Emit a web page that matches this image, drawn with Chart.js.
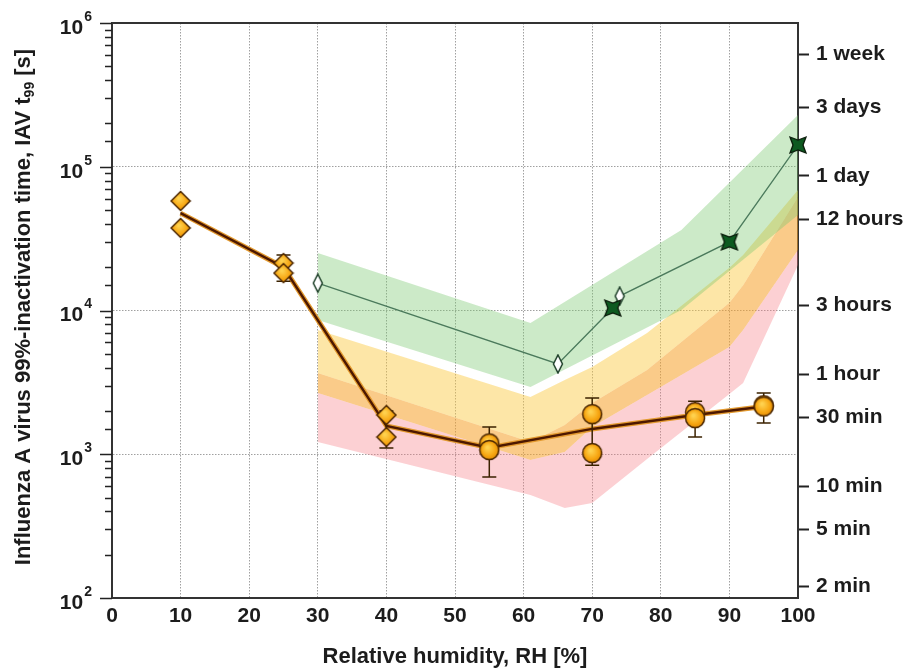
<!DOCTYPE html>
<html>
<head>
<meta charset="utf-8">
<script src="https://cdn.jsdelivr.net/npm/chart.js@4.4.1/dist/chart.umd.min.js"></script>
<style>
  html, body { margin: 0; padding: 0; background: #fff; }
  #wrap { width: 907px; height: 671px; }
</style>
</head>
<body>
<div id="wrap"><canvas id="chart" width="907" height="671"></canvas></div>
<script>
// measured IAV t99 (s) vs relative humidity (%)
const diamondRH = [10, 10, 25, 25, 40, 40];
const diamondT = [57800, 37500, 21400, 18200, 1875, 1318];
const circleRH = [55, 55, 70, 70, 85, 85, 95, 95];
const circleT = [1190, 1070, 1900, 1020, 1960, 1785, 2190, 2150];

const errRH = [25, 40, 55, 70, 85, 95];
const errLow = [16000, 1105, 695, 840, 1318, 1650];
const errHigh = [24300, 2000, 1550, 2460, 2340, 2670];

const meanRH = [10, 25, 40, 55, 70, 85, 95];
const meanT = [47600, 20000, 1575, 1110, 1500, 1875, 2150];

// green series
const openRH = [30, 65, 74];
const openT = [15500, 4250, 12600];
const starRH = [73, 90, 100];
const starT = [10400, 30000, 141600];

// shaded bands
const greenRH = [30, 61, 83, 100];
const greenTop = [25100, 8180, 36300, 229000];
const greenBottom = [8590, 2940, 10100, 46200];

const warmRH = [30, 61, 66, 70, 78, 90, 92, 100];
const yellowTop = [7320, 2500, 3285, 4050, 6970, 19800, 24300, 68900];
const orangeTop = [3675, 1217, 1598, 2273, 3860, 11300, 15000, 61600];
const pinkTop = [2670, 912, 1037, 1547, 2585, 5570, 7320, 26400];
const pinkBottom = [1217, 521, 423, 458, 927, 2625, 3130, 20700];

// axes
const leftDecades = [2, 3, 4, 5, 6];
const rightTickVals = [604800, 259200, 86400, 43200, 10800, 3600, 1800, 600, 300, 120];
const rightTickLabels = ['1 week', '3 days', '1 day', '12 hours', '3 hours', '1 hour', '30 min', '10 min', '5 min', '2 min'];

const FAMILY = '"Liberation Sans", Arial, sans-serif';
const INK = '#1c1c1c';
const tickFont = { family: FAMILY, size: 21, weight: 'bold' };
const titleFont = { family: FAMILY, size: 22, weight: 'bold' };

function pts(xs, ys) {
  return xs.map((x, i) => ({ x: x, y: ys[i] }));
}

function isPow10(v) {
  const l = Math.log10(v);
  return Math.abs(l - Math.round(l)) < 1e-9;
}

function makeMarker(w, h, shape, fill, stroke, lw) {
  const cv = document.createElement('canvas');
  cv.width = w;
  cv.height = h;
  const g = cv.getContext('2d');
  g.beginPath();
  shape(g, w, h);
  g.closePath();
  g.fillStyle = typeof fill === 'function' ? fill(g, w, h) : fill;
  g.fill();
  g.lineWidth = lw;
  g.strokeStyle = stroke;
  g.stroke();
  return cv;
}

const orangeGrad = (g, w, h) => {
  const gr = g.createRadialGradient(w * 0.42, h * 0.38, 1, w / 2, h / 2, w / 2);
  gr.addColorStop(0, '#ffd24f');
  gr.addColorStop(0.6, '#f7a612');
  gr.addColorStop(1, '#d98000');
  return gr;
};

const diamondImg = makeMarker(22, 22, (g, w, h) => {
  g.moveTo(w / 2, 1.5); g.lineTo(w - 1.5, h / 2); g.lineTo(w / 2, h - 1.5); g.lineTo(1.5, h / 2);
}, orangeGrad, '#4a2600', 1.5);

const circleImg = makeMarker(22, 22, (g, w, h) => {
  g.arc(w / 2, h / 2, w / 2 - 1.5, 0, Math.PI * 2);
}, orangeGrad, '#4a2600', 1.5);

const openImg = makeMarker(12, 20, (g, w, h) => {
  g.moveTo(w / 2, 1); g.lineTo(w - 1.5, h / 2); g.lineTo(w / 2, h - 1); g.lineTo(1.5, h / 2);
}, '#ffffff', '#1d3f28', 1.5);

const starImg = makeMarker(20, 20, (g, w, h) => {
  g.moveTo(2, 2); g.lineTo(w / 2, 5); g.lineTo(w - 2, 2); g.lineTo(w - 5, h / 2);
  g.lineTo(w - 2, h - 2); g.lineTo(w / 2, h - 5); g.lineTo(2, h - 2); g.lineTo(5, h / 2);
}, '#0d5a20', '#0a1a0a', 1.3);

function band(name, xs, hi, lo, color, order) {
  return [
    { label: name + ' lo', data: pts(xs, lo), borderColor: 'rgba(0,0,0,0)', borderWidth: 0,
      pointRadius: 0, fill: false, order: order, tension: 0 },
    { label: name + ' hi', data: pts(xs, hi), borderColor: 'rgba(0,0,0,0)', borderWidth: 0,
      pointRadius: 0, fill: '-1', backgroundColor: color, order: order, tension: 0 }
  ];
}

const greenLine = pts(openRH.concat(starRH), openT.concat(starT)).sort((a, b) => a.x - b.x);

const datasets = [
  ...band('yellow', warmRH, yellowTop, orangeTop, 'rgba(250,200,60,0.45)', 20),
  ...band('orange', warmRH, orangeTop, pinkTop, 'rgba(245,160,40,0.55)', 19),
  ...band('pink', warmRH, pinkTop, pinkBottom, 'rgba(245,120,130,0.35)', 18),
  ...band('green', greenRH, greenTop, greenBottom, 'rgba(120,200,110,0.38)', 17),
  { label: 'green line', data: greenLine, borderColor: '#4b7a5c', borderWidth: 1.3,
    pointRadius: 0, fill: false, order: 10, tension: 0, clip: false },
  { label: 'open', data: pts(openRH, openT), showLine: false, pointStyle: openImg,
    pointRadius: 8, order: 9, clip: false },
  { label: 'star', data: pts(starRH, starT), showLine: false, pointStyle: starImg,
    pointRadius: 8, order: 8, clip: false },
  { label: 'mean glow', data: pts(meanRH, meanT), borderColor: '#e39a2f', borderWidth: 5,
    pointRadius: 0, fill: false, order: 5, tension: 0 },
  { label: 'mean', data: pts(meanRH, meanT), borderColor: '#4d1800', borderWidth: 2.4,
    pointRadius: 0, fill: false, order: 4, tension: 0 },
  { label: 'diamonds', data: pts(diamondRH, diamondT), showLine: false, pointStyle: diamondImg,
    pointRadius: 10, order: 2, clip: false },
  { label: 'circles', data: pts(circleRH, circleT), showLine: false, pointStyle: circleImg,
    pointRadius: 10, order: 1, clip: false }
];

const decor = {
  id: 'decor',
  beforeDatasetsDraw(chart) {
    const { ctx, chartArea: a } = chart;
    ctx.save();
    ctx.strokeStyle = '#333';
    ctx.lineWidth = 2;
    ctx.strokeRect(a.left, a.top, a.right - a.left, a.bottom - a.top);
    ctx.restore();
  },
  beforeDatasetDraw(chart, args) {
    if (chart.data.datasets[args.index].label !== 'diamonds') return;
    const { ctx } = chart;
    const xs = chart.scales.x, ys = chart.scales.y;
    ctx.save();
    ctx.strokeStyle = '#3b2200';
    ctx.lineWidth = 1.5;
    ctx.beginPath();
    errRH.forEach((rh, i) => {
      const px = xs.getPixelForValue(rh);
      const p1 = ys.getPixelForValue(errLow[i]);
      const p2 = ys.getPixelForValue(errHigh[i]);
      ctx.moveTo(px, p1); ctx.lineTo(px, p2);
      ctx.moveTo(px - 7, p1); ctx.lineTo(px + 7, p1);
      ctx.moveTo(px - 7, p2); ctx.lineTo(px + 7, p2);
    });
    ctx.stroke();
    ctx.restore();
  },
  afterDraw(chart) {
    const { ctx } = chart;
    const ys = chart.scales.y;
    ctx.save();
    // left ticks (outside), long at decades
    ctx.strokeStyle = '#222';
    ctx.lineWidth = 1.6;
    ctx.beginPath();
    ys.ticks.forEach(t => {
      const py = Math.round(ys.getPixelForValue(t.value)) + 0.5;
      const len = isPow10(t.value) ? 12 : 7;
      ctx.moveTo(ys.right - len, py);
      ctx.lineTo(ys.right, py);
    });
    ctx.stroke();

    // left labels 10^n
    ctx.fillStyle = INK;
    ctx.textAlign = 'right';
    ctx.textBaseline = 'middle';
    const xr = ys.right - 20;
    leftDecades.forEach(d => {
      const py = ys.getPixelForValue(Math.pow(10, d));
      ctx.font = 'bold 14px ' + FAMILY;
      const exp = String(d);
      const ew = ctx.measureText(exp).width;
      ctx.fillText(exp, xr, py - 6);
      ctx.font = 'bold 21px ' + FAMILY;
      ctx.fillText('10', xr - ew - 1, py + 5);
    });

    // y title with subscript
    const p1 = 'Influenza A virus 99%-inactivation time, IAV t';
    const sub = '99';
    const p3 = ' [s]';
    ctx.font = 'bold 22px ' + FAMILY;
    const w1 = ctx.measureText(p1).width;
    const w3 = ctx.measureText(p3).width;
    ctx.font = 'bold 14px ' + FAMILY;
    const w2 = ctx.measureText(sub).width;
    const total = w1 + w2 + w3;
    ctx.translate(24, 307);
    ctx.rotate(-Math.PI / 2);
    ctx.textAlign = 'left';
    ctx.textBaseline = 'middle';
    const x0 = -total / 2;
    ctx.font = 'bold 22px ' + FAMILY;
    ctx.fillText(p1, x0, 0);
    ctx.font = 'bold 14px ' + FAMILY;
    ctx.fillText(sub, x0 + w1, 6);
    ctx.font = 'bold 22px ' + FAMILY;
    ctx.fillText(p3, x0 + w1 + w2, 0);
    ctx.restore();
  }
};

new Chart(document.getElementById('chart'), {
  type: 'line',
  data: { datasets: datasets },
  options: {
    responsive: false,
    animation: false,
    events: [],
    layout: { padding: { top: 23, left: 0, right: 0, bottom: 0 } },
    plugins: {
      legend: { display: false },
      tooltip: { enabled: false }
    },
    scales: {
      x: {
        type: 'linear',
        min: 0,
        max: 100,
        ticks: { stepSize: 10, font: tickFont, color: INK, padding: 6 },
        grid: {
          color: c => (c.tick && c.tick.value > 0 && c.tick.value < 100) ? '#a0a0a0' : 'rgba(0,0,0,0)',
          drawTicks: false,
          lineWidth: 1
        },
        border: { color: '#222', width: 2, dash: [1.5, 1.5] },
        title: {
          display: true,
          text: 'Relative humidity, RH [%]',
          font: titleFont,
          color: INK,
          padding: { top: 2, bottom: 1 }
        },
        afterFit: s => { s.height = 73; }
      },
      y: {
        type: 'logarithmic',
        position: 'left',
        min: 100,
        max: 1e6,
        ticks: { display: false, autoSkip: false },
        grid: {
          color: c => {
            const v = c.tick && c.tick.value;
            return (v && isPow10(v) && v > 100 && v < 1e6) ? '#a0a0a0' : 'rgba(0,0,0,0)';
          },
          drawTicks: false,
          lineWidth: 1
        },
        border: { color: '#222', width: 2, dash: [1.5, 1.5] },
        afterFit: s => { s.width = 112; }
      },
      y2: {
        type: 'logarithmic',
        position: 'right',
        min: 100,
        max: 1e6,
        afterBuildTicks: s => { s.ticks = rightTickVals.map(v => ({ value: v })); },
        ticks: {
          autoSkip: false,
          font: tickFont,
          color: INK,
          padding: 7,
          callback: (v, i) => rightTickLabels[i]
        },
        grid: { drawOnChartArea: false, drawTicks: true, tickLength: 11, tickColor: '#222', tickWidth: 2 },
        border: { display: true, color: '#222', width: 2 },
        afterFit: s => { s.width = 109; }
      }
    }
  },
  plugins: [decor]
});
</script>
</body>
</html>
